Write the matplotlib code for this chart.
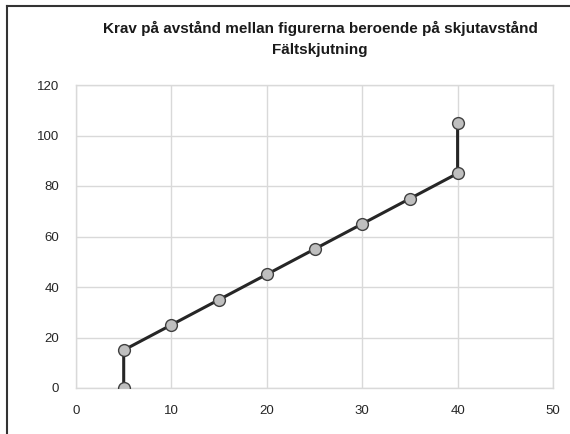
import matplotlib.pyplot as plt
from matplotlib.lines import Line2D

# data
x_vals = [5, 5, 10, 15, 20, 25, 30, 35, 40, 40]
y_vals = [0, 15, 25, 35, 45, 55, 65, 75, 85, 105]
x_ticks = [0, 10, 20, 30, 40, 50]
y_ticks = [0, 20, 40, 60, 80, 100, 120]
title = "Krav på avstånd mellan figurerna beroende på skjutavstånd\nFältskjutning"

plt.rcParams['font.family'] = ['Liberation Sans', 'DejaVu Sans']

fig = plt.figure(figsize=(5.7, 4.34), dpi=100)
ax = fig.add_axes([76 / 570, 1 - 388 / 434, (553 - 76) / 570, (388 - 85) / 434])

grid_col = '#d9d9d9'
ax.plot(x_vals, y_vals, color='#262626', linewidth=2.2, marker='o', markersize=8.5,
        markerfacecolor='#bfbfbf', markeredgecolor='#404040', markeredgewidth=1, zorder=5)

ax.set_xlim(0, 50)
ax.set_ylim(0, 120)
ax.set_xticks(x_ticks)
ax.set_yticks(y_ticks)
ax.grid(True, color=grid_col, linewidth=1)
ax.set_axisbelow(True)
for s in ax.spines.values():
    s.set_color(grid_col)
    s.set_linewidth(1)
ax.tick_params(length=0, labelsize=9.5, colors='#262626', pad=12)

fig.text(320 / 570, 1 - 39 / 434, title, ha='center', va='center', fontsize=11,
         fontweight='bold', color='#1a1a1a', linespacing=1.6)

# outer chart border (cropped screenshot)
fig.add_artist(Line2D([7 / 570, 7 / 570], [0, 1 - 6 / 434], color='#333333', linewidth=1.5))
fig.add_artist(Line2D([7 / 570, 1], [1 - 6 / 434, 1 - 6 / 434], color='#333333', linewidth=1.5))

fig.savefig('out.png', dpi=100)
plt.close(fig)
